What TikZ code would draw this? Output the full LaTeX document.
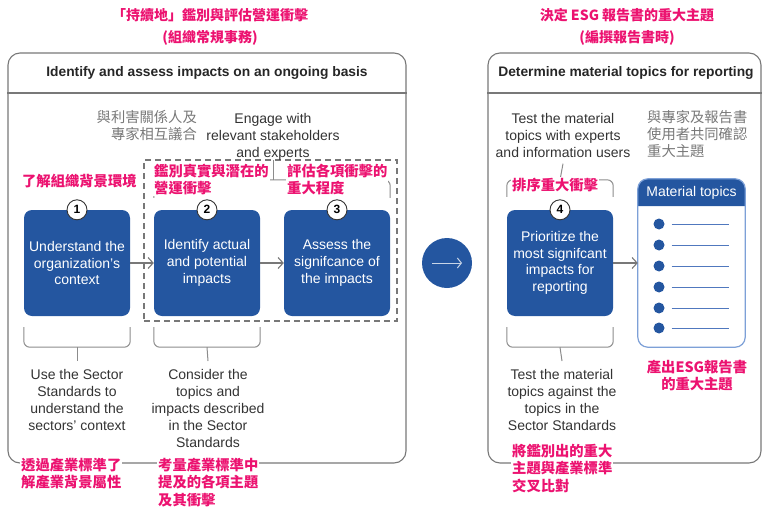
\documentclass[tikz,border=0pt]{standalone}
\usepackage{fontspec}
\setmainfont{Liberation Sans}
\newfontfamily\cjk{Noto Sans CJK TC}
\usetikzlibrary{arrows.meta}
\definecolor{boxblue}{RGB}{36,86,160}
\definecolor{pinkred}{RGB}{236,18,112}
\definecolor{framegray}{RGB}{120,120,120}
\definecolor{bracegray}{RGB}{140,140,140}
\definecolor{txtgray}{RGB}{51,51,51}
\definecolor{cjkgraycol}{RGB}{120,120,120}
\definecolor{lineblue}{RGB}{125,160,215}
\definecolor{listblue}{RGB}{80,120,190}
\tikzset{
 panel/.style={draw=framegray, line width=1.1pt, rounded corners=12pt, inner sep=0pt},
 stepbox/.style={fill=boxblue, rounded corners=8pt, minimum width=106pt, minimum height=106pt, text=white, align=center, font=\fontsize{14}{16.7}\selectfont, inner sep=0pt},
 numcirc/.style={circle, draw=txtgray, fill=white, line width=0.9pt, minimum size=20pt, inner sep=0pt, font=\bfseries\fontsize{12}{12}\selectfont},
 flow/.style={draw=framegray, line width=1.1pt, -{Straight Barb[length=5pt,width=11pt,line width=1.1pt]}},
 bracket/.style={draw=bracegray, line width=1pt, rounded corners=6pt},
 entext/.style={text=txtgray, align=center, font=\fontsize{14}{17}\selectfont, inner sep=0pt},
 pinklbl/.style={text=pinkred, align=left, font=\cjk\bfseries\fontsize{14.3}{17.3}\selectfont, fill=white, inner sep=1pt},
 pinktitle/.style={text=pinkred, font=\cjk\bfseries\fontsize{14}{17}\selectfont, inner sep=1pt},
 cjkgray/.style={text=cjkgraycol, font=\cjk\fontsize{14.3}{17}\selectfont, inner sep=0pt},
 header/.style={font=\bfseries\fontsize{13.8}{16}\selectfont, text=black!85},
 bulletdot/.style={circle, fill=boxblue, minimum size=11pt, inner sep=0pt},
 listline/.style={draw=listblue, line width=1pt},
}
\begin{document}
\begin{tikzpicture}[x=1pt,y=-1pt]
\useasboundingbox (0,0) rectangle (768,519);
% titles
\node[pinktitle] (t1) at (210,15) {「持續地」鑑別與評估營運衝擊};
\node[pinktitle] (t1b) at (210,38) {(組織常規事務)};
\node[pinktitle] (t2) at (627,15) {決定 ESG 報告書的重大主題};
\node[pinktitle] (t2b) at (627,38) {(編撰報告書時)};
% panels
\node[panel, minimum width=398pt, minimum height=410pt] (lp) at (207,258) {};
\draw[draw=framegray, line width=1.1pt] (lp.west |- 0,93) -- (lp.east |- 0,93);
\node[header] (lh) at (207,73) {Identify and assess impacts on an ongoing basis};
\node[panel, minimum width=273pt, minimum height=410pt] (rp) at (624.5,258) {};
\draw[draw=framegray, line width=1.1pt] (rp.west |- 0,93) -- (rp.east |- 0,93);
\node[header] (rh) at (626,73) {Determine material topics for reporting};
% go arrow
\node[circle, fill=boxblue, minimum size=50pt, inner sep=0pt] (go) at (447,263) {};
\draw[draw=white!75!boxblue, line width=1pt, -{Straight Barb[length=4pt,width=10pt,line width=1pt]}] ([xshift=-15pt]go.center) -- ([xshift=15pt]go.center);
% dashed frame
\node[draw=framegray, line width=1.4pt, dash pattern=on 6pt off 4pt, minimum width=253pt, minimum height=161pt, inner sep=0pt] (dash) at (270.5,240.5) {};
% step boxes
\node[stepbox] (b1) at (77,263) {Understand the\\organization’s\\context};
\node[stepbox] (b2) at (207,263) {Identify actual\\and potential\\impacts};
\node[stepbox] (b3) at (337,263) {Assess the\\signifcance of\\the impacts};
\node[stepbox] (b4) at (560,263) {Prioritize the\\most signifcant\\impacts for\\reporting};
\draw[flow] (b1) -- (b2);
\draw[flow] (b2) -- (b3);
% material topics box
\node[minimum width=107pt, minimum height=168pt, inner sep=0pt] (mt) at (691.5,263) {};
\fill[boxblue] (mt.west |- 0,206) [rounded corners=10pt] -- (mt.north west) -- (mt.north east) [sharp corners] -- (mt.east |- 0,206) -- cycle;
\draw[draw=lineblue, line width=1.2pt, rounded corners=10pt] (mt.north west) rectangle (mt.south east);
\node[text=white, font=\fontsize{14}{16}\selectfont] (mth) at (691.5,193) {Material topics};
\foreach \i/\yy in {1/224,2/245,3/266,4/287,5/308,6/328}{
  \node[bulletdot] (m\i) at (659,\yy) {};
  \draw[listline] ([xshift=7pt]m\i.east) -- ++(57,0);
}
\draw[flow] (b4) -- (mt);
% number circles
\node[numcirc] (n1) at (b1.north) {1};
\node[numcirc] (n2) at (b2.north) {2};
\node[numcirc] (n3) at (b3.north) {3};
\node[numcirc] (n4) at (b4.north) {4};
% top texts
\node[entext, anchor=north] (eng) at (273,113) {Engage with\\relevant stakeholders\\and experts};
\node[cjkgray, anchor=north east, align=right] (engc) at (197,110) {與利害關係人及\\專家相互議合};
\node[entext, anchor=north] (tst) at (563,113) {Test the material\\topics with experts\\and information users};
\node[cjkgray, anchor=north west, align=left] (tstc) at (647,110) {與專家及報告書\\使用者共同確認\\重大主題};
% top brackets
\draw[bracket] ([yshift=12pt]b2.north west) -- ([yshift=30pt]b2.north west) -- ([yshift=30pt]b3.north east) -- ([yshift=12pt]b3.north east);
\coordinate (tb23) at (273,180);
\draw[bracket] (eng.south) -- (tb23);
\draw[bracket] ([yshift=13pt]b4.north west) -- ([yshift=30pt]b4.north west) -- ([yshift=30pt]b4.north east) -- ([yshift=13pt]b4.north east);
\coordinate (tb4) at (560,180);
\draw[bracket] ([yshift=-6pt]tst.south) -- (tb4);
% bottom brackets
\foreach \b in {b1,b2,b4}{
  \draw[bracket] ([yshift=-11pt]\b.south west) -- ([yshift=-31pt]\b.south west) -- ([yshift=-31pt]\b.south east) -- ([yshift=-11pt]\b.south east);
}
\node[entext, anchor=north] (u1) at (77,369) {Use the Sector\\Standards to\\understand the\\sectors’ context};
\node[entext, anchor=north] (u2) at (208,369) {Consider the\\topics and\\impacts described\\in the Sector\\Standards};
\node[entext, anchor=north] (u4) at (562,369) {Test the material\\topics against the\\topics in the\\Sector Standards};
\draw[bracket] ([yshift=-31pt]b1.south) -- ([yshift=8pt]u1.north);
\draw[bracket] ([yshift=-31pt]b2.south) -- ([yshift=8pt]u2.north);
\draw[bracket] ([yshift=-31pt]b4.south) -- ([yshift=8pt]u4.north);
% pink labels
\node[pinklbl, anchor=west] (p1) at (21,181) {了解組織背景環境};
\node[pinklbl, anchor=north west] (p2) at (153,163) {鑑別真實與潛在的\\營運衝擊};
\node[pinklbl, anchor=north west] (p3) at (286,163) {評估各項衝擊的\\重大程度};
\node[pinklbl, anchor=west] (p4) at (511,185) {排序重大衝擊};
\node[pinklbl, anchor=north west] (p5) at (20,457) {透過產業標準了\\解產業背景屬性};
\node[pinklbl, anchor=north west] (p6) at (157,457) {考量產業標準中\\提及的各項主題\\及其衝擊};
\node[pinklbl, anchor=north west] (p7) at (511,443) {將鑑別出的重大\\主題與產業標準\\交叉比對};
\node[pinklbl, anchor=north, align=center] (p8) at (697,359) {產出ESG報告書\\的重大主題};
\end{tikzpicture}
\end{document}
